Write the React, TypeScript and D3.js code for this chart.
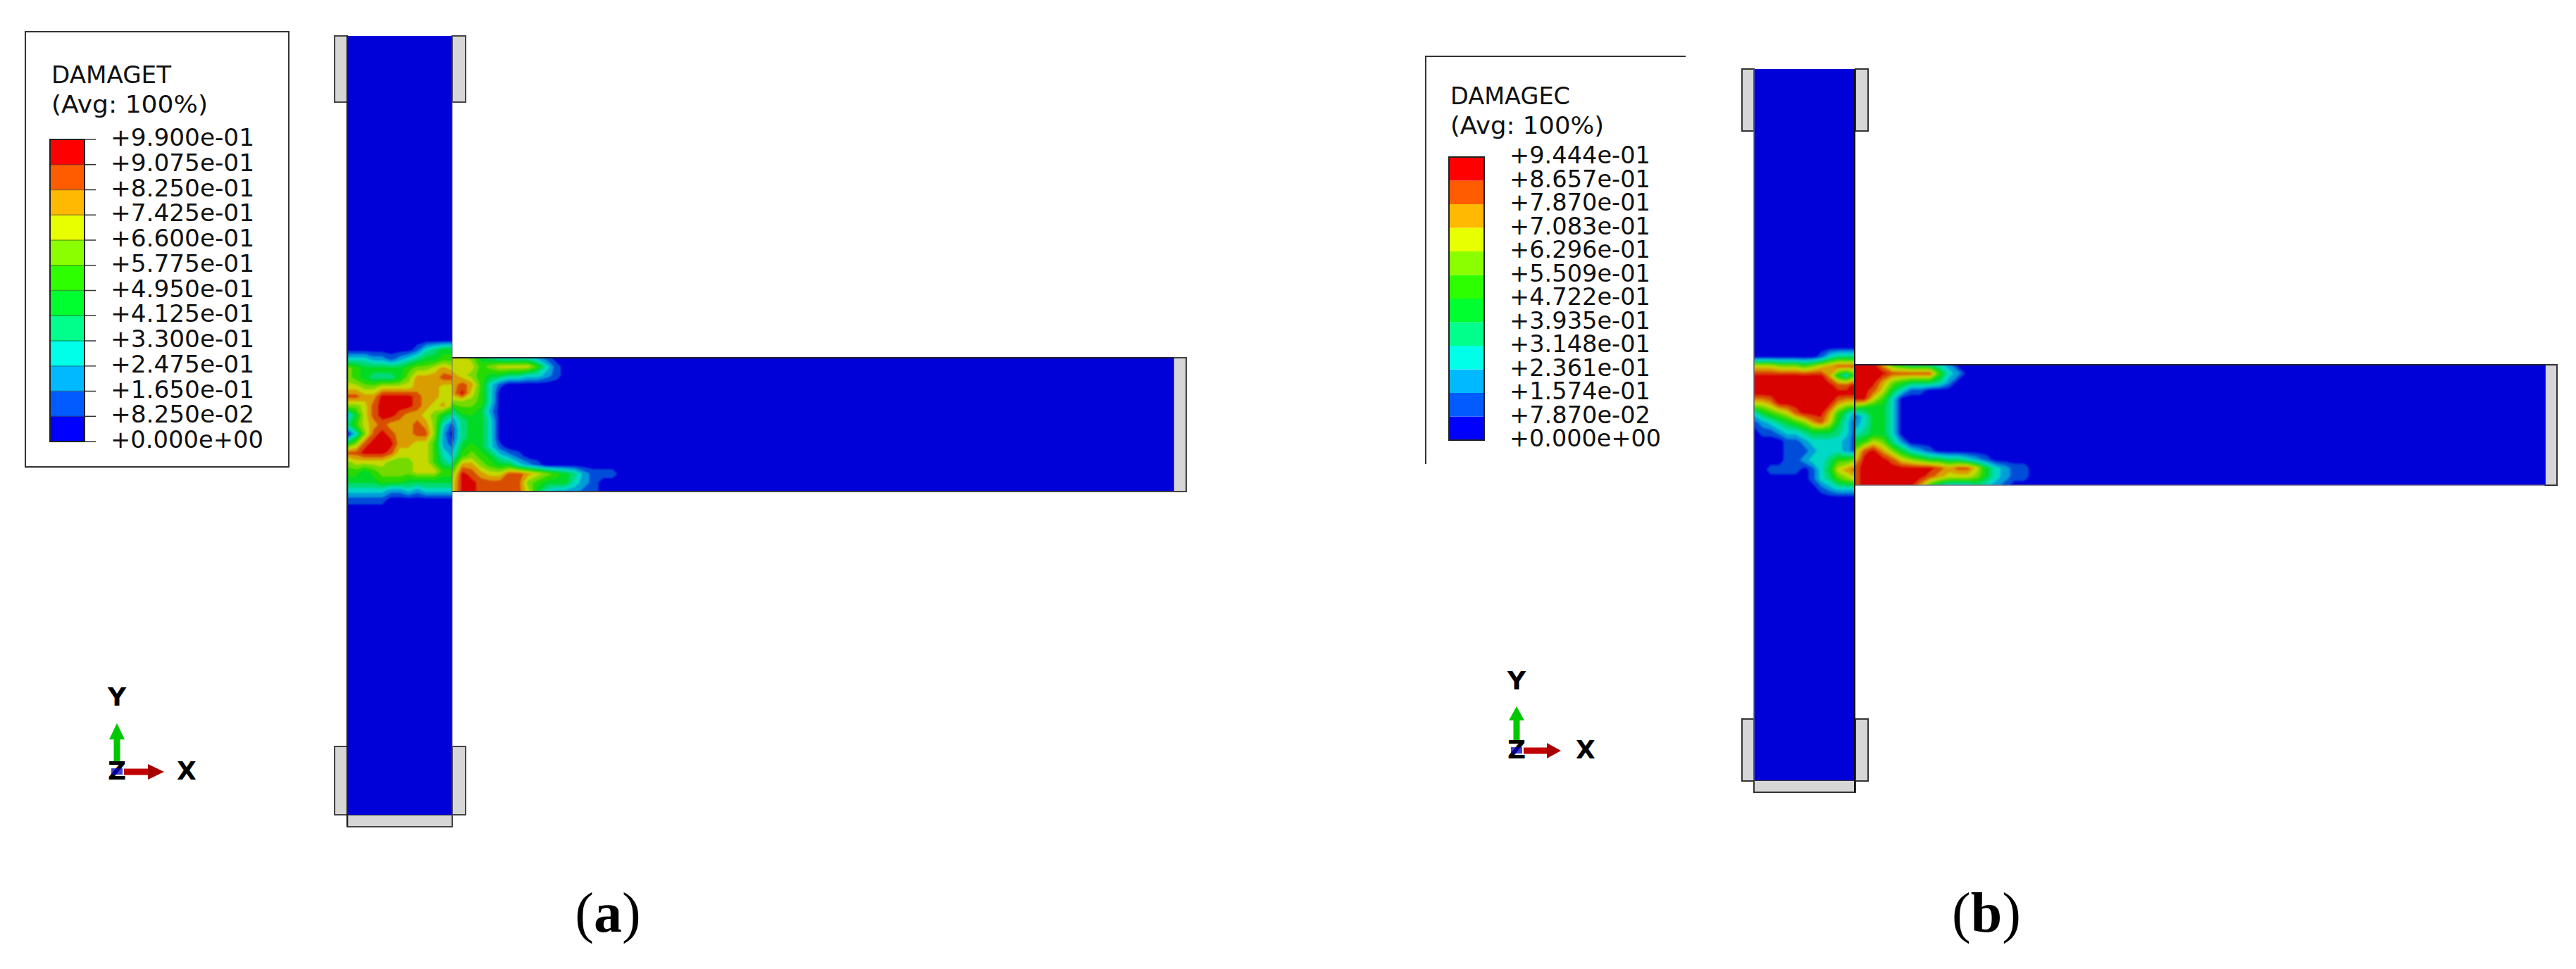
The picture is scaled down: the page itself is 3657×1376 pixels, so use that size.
import React from "react";
import * as d3 from "d3";

const W = 3657, H = 1376;
const legendColors = ["#0000ff","#005cff","#00b9ff","#00ffe8","#00ff8b","#00ff2e","#2eff00","#8bff00","#e8ff00","#ffb900","#ff5c00","#ff0000"];
const plotColors = ["#0000d9","#004ed9","#009dd9","#00d9c5","#00d976","#00d927","#27d900","#76d900","#c5d900","#d99d00","#d94e00","#d90000"];
const labelsA = ["+9.900e-01","+9.075e-01","+8.250e-01","+7.425e-01","+6.600e-01","+5.775e-01","+4.950e-01","+4.125e-01","+3.300e-01","+2.475e-01","+1.650e-01","+8.250e-02","+0.000e+00"];
const labelsB = ["+9.444e-01","+8.657e-01","+7.870e-01","+7.083e-01","+6.296e-01","+5.509e-01","+4.722e-01","+3.935e-01","+3.148e-01","+2.361e-01","+1.574e-01","+7.870e-02","+0.000e+00"];

// Contour band index (hex digit 0..b) read at grid nodes of the joint region.
const columnA = [
"0000000000000",
"0000000013455",
"3332212345566",
"7655555677898",
"76544457999aa",
"8877888899988",
"aa99bbbba9988",
"778abbbba9897",
"258abba998754",
"4689a999a9731",
"037aba99aa720",
"57abbb9988621",
"aabbba8888632",
"7888877788643",
"6656777788866",
"5555666555555",
"3333322323333",
"1111100000000",
"0000000000000"];
const beamA = [
"8875433332100000000",
"8886788886310000000",
"9876554433210000000",
"9a96310000000000000",
"9b86300000000000000",
"7776300000000000000",
"4665200000000000000",
"2455300000000000000",
"1455300000000000000",
"1455300000000000000",
"2565310000000000000",
"3676532100000000000",
"5997655321000000000",
"7ba988aa98765421110",
"8bbaaaaa76555321000",
"8bbaaaaa85322211000"];
const columnB = [
"0000000000000",
"0000000013444",
"8887776789aaa",
"bbbbbbbbb9536",
"bbbbbbbbbbaab",
"bbbbbbbbbbbbb",
"889bbbbbbb988",
"35678abbb9642",
"12345679a8531",
"0112334555431",
"0000112333321",
"0000111233321",
"0000112334667",
"001111013589a",
"0000000134678",
"0000000012333",
"0000000000000"];
const beamB = [
"bbb96544432000000000",
"bbbbaaaaa63200000000",
"bbb97655542000000000",
"bba85311000000000000",
"bb863000000000000000",
"65553000000000000000",
"13553000000000000000",
"23553000000000000000",
"34553000000000000000",
"56874200000000000000",
"7ab97532100000000000",
"8bbba876554432100000",
"abbbbbbbba9aa8532110",
"abbbbbbba98887532110",
"abbbbbb9643334321000"];

const thresholds = d3.range(1, 12);
function parse(rows: string[]) {
  const m = d3.max(rows, r => r.length) as number;
  const v: number[] = [];
  rows.forEach(r => { for (let i = 0; i < m; i++) v.push(parseInt(r[i] ?? "0", 16) + 0.5); });
  return { n: m, h: rows.length, v };
}

function Field({ id, rows, x0, x1, y0, y1, clip, blur }: any) {
  const { n, h, v } = parse(rows);
  const sx = d3.scaleLinear().domain([0.5, n - 0.5]).range([x0, x1]);
  const sy = d3.scaleLinear().domain([0.5, h - 0.5]).range([y0, y1]);
  const path = d3.geoPath(d3.geoTransform({ point(x, y) { (this as any).stream.point(sx(x), sy(y)); } }));
  const cs = d3.contours().size([n, h]).thresholds(thresholds)(v);
  return (
    <g clipPath={`url(#${id})`}>
      <defs><clipPath id={id}><rect x={clip[0]} y={clip[1]} width={clip[2]} height={clip[3]} /></clipPath></defs>
      <g filter={blur}>
        {cs.map((c, i) => <path key={i} d={path(c as any) || ""} fill={plotColors[i + 1]} />)}
      </g>
    </g>
  );
}

function Legend({ y, barH, title, labels, box, ticks, swX, swW, lblX, lblW, expW, titleY, avgY, titleW, avgW, fs }: any) {
  const sy = d3.scaleLinear().domain([12, 0]).range([y, y + barH]);
  return (
    <g fontFamily="'DejaVu Sans', Verdana, sans-serif" fill="#111">
      {box}
      <text x={swX + 2} y={titleY} fontSize={fs} textLength={titleW} lengthAdjust="spacingAndGlyphs">{title}</text>
      <text x={swX + 2} y={avgY} fontSize={fs} textLength={avgW} lengthAdjust="spacingAndGlyphs">(Avg: 100%)</text>
      {legendColors.map((c, i) => <rect key={i} x={swX} y={sy(i + 1)} width={swW} height={sy(i) - sy(i + 1)} fill={c} />)}
      {ticks && legendColors.map((c, i) => <line key={c} x1={swX} x2={swX + swW} y1={sy(i)} y2={sy(i)} stroke="#000" strokeOpacity={0.35} strokeWidth={1.5} />)}
      <rect x={swX} y={y} width={swW} height={barH} fill="none" stroke="#222" strokeWidth={2} />
      {ticks && labels.map((_: string, i: number) => <line key={i} x1={swX + swW} x2={swX + swW + 16} y1={sy(12 - i)} y2={sy(12 - i)} stroke="#333" strokeWidth={1.5} />)}
      {labels.map((l: string, i: number) => (
        <text key={l} x={lblX} y={sy(12 - i) + 9} fontSize={fs} textLength={l.endsWith("+00") ? expW : lblW} lengthAdjust="spacingAndGlyphs">{l}</text>
      ))}
    </g>
  );
}

function Triad({ x, y, yBase, tip, headBase, xOff, rTip, rHead }: any) {
  return (
    <g>
      <rect x={x - 4.5} y={headBase - 2} width={9} height={y - headBase - 12} fill="#00c800" />
      <polygon points={`${x},${tip} ${x - 11},${headBase} ${x + 11},${headBase}`} fill="#00c800" />
      <rect x={x + 10} y={y - 4.5} width={rHead - x - 8} height={9} fill="#c00000" />
      <polygon points={`${rTip},${y} ${rHead},${y - 11} ${rHead},${y + 11}`} fill="#a80000" />
      <g fontFamily="'DejaVu Sans', sans-serif" fontWeight={700} fill="#000" fontSize={36} textAnchor="middle">
        <text x={x} y={y + 11}>Z</text>
        <text x={x} y={yBase}>Y</text>
        <text x={x + xOff} y={y + 11}>X</text>
      </g>
      <rect x={x - 8} y={y - 5} width={16} height={9} fill="#0000c0" opacity={0.75} />
    </g>
  );
}

function Frame({ cx0, cx1, cTop, cBot, bx1, bTop, bBot, padX0, padX1, padTop, padBot, endX, botY, st }: any) {
  return (
    <g>
      {[[padX0, padTop[0], cx0 - padX0, padTop[1]], [cx1, padTop[0], padX1 - cx1, padTop[1]], [padX0, padBot[0], cx0 - padX0, padBot[1]], [cx1, padBot[0], padX1 - cx1, padBot[1]]].map((r, i) => (
        <rect key={i} x={r[0]} y={r[1]} width={r[2]} height={r[3]} fill="#d6d6d6" stroke={st} strokeWidth={2} />
      ))}
      <rect x={cx0} y={cBot} width={cx1 - cx0} height={botY - cBot} fill="#d6d6d6" stroke={st} strokeWidth={2} />
      <rect x={bx1} y={bTop} width={endX - bx1} height={bBot - bTop} fill="#d6d6d6" stroke={st} strokeWidth={2} />
      <rect x={cx0} y={cTop} width={cx1 - cx0} height={cBot - cTop} fill={plotColors[0]} />
      <rect x={cx1} y={bTop} width={bx1 - cx1} height={bBot - bTop} fill={plotColors[0]} />
    </g>
  );
}

export default function App() {
  const serif = "'Liberation Serif', serif";
  return (
    <svg width={W} height={H} viewBox={`0 0 ${W} ${H}`} style={{ position: "absolute", left: 0, top: 0, background: "#fff" }}>
      <defs>
        <filter id="b1"><feGaussianBlur stdDeviation="1" /></filter>
        <filter id="b2"><feGaussianBlur stdDeviation="1.8" /></filter>
      </defs>

      <Legend y={198} barH={429} title="DAMAGET" labels={labelsA} ticks swX={71} swW={49} lblX={157} lblW={204} expW={217}
        titleY={118} avgY={160} titleW={170} avgW={222} fs={34}
        box={<rect x={36} y={45} width={374} height={618} fill="#fff" stroke="#333" strokeWidth={2} />} />
      <Frame cx0={493} cx1={642} cTop={51} cBot={1157} bx1={1666} bTop={508} bBot={698} padX0={475} padX1={661} padTop={[51, 94]} padBot={[1060, 97]} endX={1684} botY={1174} st="#444" />
      <Field id="ca" rows={columnA} x0={493} x1={642} y0={483} y1={723} clip={[493, 483, 149, 240]} blur="url(#b1)" />
      <Field id="ba" rows={beamA} x0={643} x1={883} y0={508} y1={698} clip={[642, 508, 241, 190]} blur="url(#b1)" />
      <line x1={493} x2={493} y1={51} y2={1174} stroke="#222" strokeWidth={2.5} />
      <line x1={642} x2={1666} y1={508} y2={508} stroke="#223" strokeWidth={2} />
      <line x1={642} x2={1666} y1={698} y2={698} stroke="#444" strokeWidth={2} />
      <line x1={642} x2={642} y1={51} y2={1157} stroke="#667" strokeWidth={1.5} opacity={0.6} />
      <Triad x={166} y={1096} yBase={1002} tip={1027} headBase={1050} xOff={99} rTip={233} rHead={210} />
      <text x={863} y={1323} fontFamily={serif} fontSize={80} textAnchor="middle" fill="#000">(<tspan fontWeight={700}>a</tspan>)</text>

      <Legend y={223} barH={402} title="DAMAGEC" labels={labelsB} swX={2057} swW={50} lblX={2143} lblW={200} expW={215}
        titleY={148} avgY={190} titleW={170} avgW={218} fs={33}
        box={<path d="M2393,80 H2024 V659" fill="none" stroke="#333" strokeWidth={2} />} />
      <Frame cx0={2490} cx1={2634} cTop={98} cBot={1108} bx1={3613} bTop={518} bBot={689} padX0={2473} padX1={2652} padTop={[98, 88]} padBot={[1021, 88]} endX={3630} botY={1125} st="#333" />
      <Field id="cb" rows={columnB} x0={2490} x1={2633} y0={493} y1={707} clip={[2490, 493, 143, 214]} blur="url(#b2)" />
      <Field id="bb" rows={beamB} x0={2633} x1={2887} y0={518} y1={689} clip={[2634, 518, 253, 171]} blur="url(#b2)" />
      <line x1={2633} x2={2633} y1={98} y2={1125} stroke="#111" strokeWidth={2} />
      <line x1={2490} x2={2490} y1={98} y2={1108} stroke="#667" strokeWidth={1.5} />
      <line x1={2634} x2={3613} y1={518} y2={518} stroke="#223" strokeWidth={2} />
      <line x1={2634} x2={3613} y1={689} y2={689} stroke="#778" strokeWidth={1.5} />
      <Triad x={2153} y={1066} yBase={979} tip={1003} headBase={1023} xOff={98} rTip={2216} rHead={2196} />
      <text x={2820} y={1323} fontFamily={serif} fontSize={80} textAnchor="middle" fill="#000">(<tspan fontWeight={700}>b</tspan>)</text>
    </svg>
  );
}
